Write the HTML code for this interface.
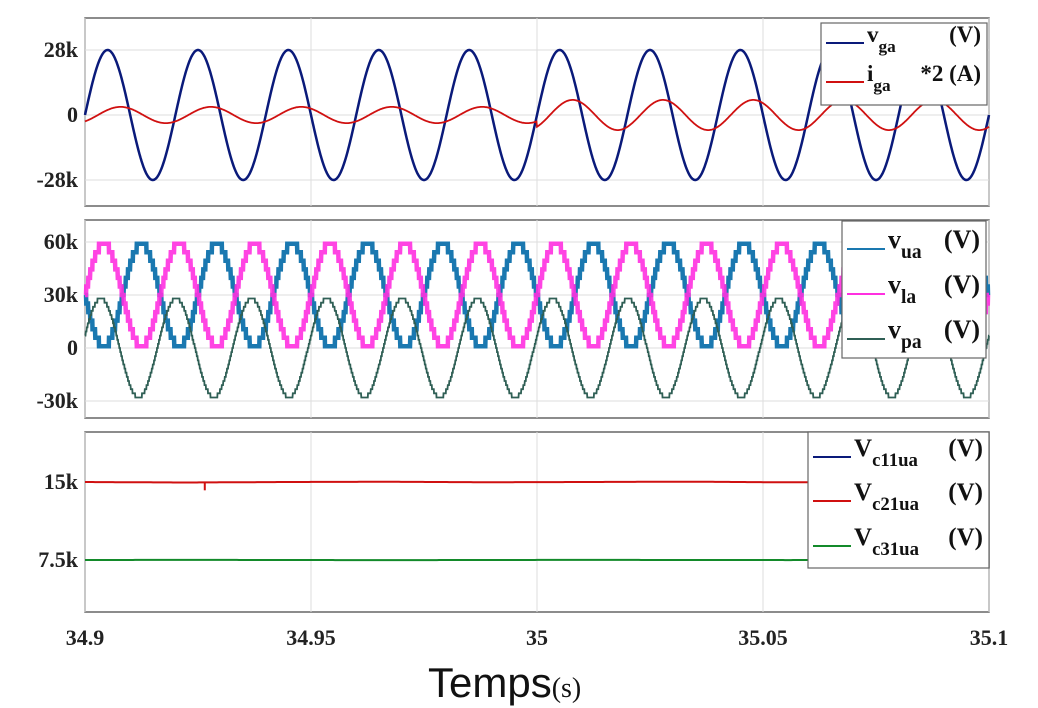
<!DOCTYPE html>
<html><head><meta charset="utf-8">
<style>
html,body{margin:0;padding:0;background:#fff;width:1038px;height:708px;overflow:hidden}
svg{display:block}
.tick{font-family:"Liberation Serif",serif;font-size:22px;font-weight:bold;fill:#222}
.leg{font-family:"Liberation Serif",serif;font-weight:bold;fill:#111}
</style></head>
<body>
<svg id="chart" width="1038" height="708" viewBox="0 0 1038 708"></svg>
<script>
// ---- data ----
const xTicks = [34.9, 34.95, 35, 35.05, 35.1];
const xTickLabels = ["34.9", "34.95", "35", "35.05", "35.1"];
const freq1 = 50; // Hz, grid panel
const freq2 = 60; // Hz, arm voltage panel
const p1Ticks = [28000, 0, -28000];
const p1TickLabels = ["28k", "0", "-28k"];
const vgaAmp = [28000,28000,28000,28000,28000,28000,28000,28000,28000,28000];
const igaAmp = [3500,3500,3500,3500,3500,6500,6500,6500,6500,6500];
const p2Ticks = [60000, 30000, 0, -30000];
const p2TickLabels = ["60k", "30k", "0", "-30k"];
const vOffset = 30000;
const vArmAmp = [29000,29000,29000,29000,29000,29000,29000,29000,29000,29000,29000,29000];
const vpaAmp = [28000,28000,28000,28000,28000,28000,28000,28000,28000,28000,28000,28000];
const p3Ticks = [15000, 7500];
const p3TickLabels = ["15k", "7.5k"];
const vc21 = [15000, 14950, 15000, 15020, 14980, 15000, 15030, 14970, 15020, 15000];
const vc31 = [7500, 7510, 7500, 7490, 7500, 7510, 7500, 7495, 7500, 7505];
const vc21Spike = {t: 34.9265, v: 14200};

// ---- layout ----
const NS = "http://www.w3.org/2000/svg";
const svg = document.getElementById("chart");
const X0 = 85, X1 = 989;
const xs = t => X0 + (t - 34.9) / 0.2 * (X1 - X0);
function lin(v0, y0, v1, y1){ return v => y0 + (v - v0) * (y1 - y0) / (v1 - v0); }
const y1s = lin(28000, 50, -28000, 180);
const y2s = lin(60000, 242, -30000, 401);
const y3s = lin(15000, 482, 7500, 560);

function el(tag, attrs, parent){
  const e = document.createElementNS(NS, tag);
  for (const k in attrs) e.setAttribute(k, attrs[k]);
  (parent || svg).appendChild(e);
  return e;
}

function panel(name, top, bot, ticks, labels, ys){
  const g = el("g", {});
  
  
  el("rect", {x: X0, y: top, width: X1 - X0, height: bot - top, fill: "#fff", stroke: "#666", "stroke-width": 1.5}, g);
  xTicks.forEach(t => el("line", {x1: xs(t), x2: xs(t), y1: top, y2: bot, stroke: "#ddd", "stroke-width": 1}, g));
  ticks.forEach((v, i) => {
    const y = ys(v);
    el("line", {x1: X0, x2: X1, y1: y, y2: y, stroke: "#ddd", "stroke-width": 1}, g);
    const tx = el("text", {x: 78, y: y + 7, "text-anchor": "end", class: "tick"}, g);
    tx.textContent = labels[i];
    
    
  });
  return g;
}

const g1 = panel("top-panel", 18, 206, p1Ticks, p1TickLabels, y1s);
const g2 = panel("middle-panel", 220, 418, p2Ticks, p2TickLabels, y2s);
const g3 = panel("bottom-panel", 432, 612, p3Ticks, p3TickLabels, y3s);

function wave(fn, ys, step){
  let d = "";
  for (let px = X0; px <= X1; px += (step || 0.5)){
    const t = 34.9 + (px - X0) / (X1 - X0) * 0.2;
    d += (d ? "L" : "M") + px.toFixed(1) + "," + ys(fn(t)).toFixed(1);
  }
  return d;
}
function cyc(t, f, n){ return Math.min(n - 1, Math.max(0, Math.floor((t - 34.9) * f))); }
const w1 = 2 * Math.PI * freq1;
const w2 = 2 * Math.PI * freq2;
function quant(s, n){ return Math.round(s * n) / n; }

// panel 1
let p = el("path", {d: wave(t => vgaAmp[cyc(t, freq1, vgaAmp.length)] * Math.sin(w1 * (t - 34.9)), y1s), fill: "none", stroke: "#0a1a7a", "stroke-width": 2.5}, g1);
 
p = el("path", {d: wave(t => igaAmp[cyc(t, freq1, igaAmp.length)] * Math.sin(w1 * (t - 34.9) - 0.9), y1s), fill: "none", stroke: "#d01010", "stroke-width": 1.8}, g1);
 

// panel 2
p = el("path", {d: wave(t => vOffset - vArmAmp[cyc(t, freq2, vArmAmp.length)] * quant(Math.sin(w2 * (t - 34.9)), 6), y2s, 0.25), fill: "none", stroke: "#1a78b0", "stroke-width": 4.5}, g2);
 
p = el("path", {d: wave(t => vOffset + vArmAmp[cyc(t, freq2, vArmAmp.length)] * quant(Math.sin(w2 * (t - 34.9)), 6), y2s, 0.25), fill: "none", stroke: "#ff30e0", "stroke-width": 4.5, opacity: 0.9}, g2);
 
p = el("path", {d: wave(t => vpaAmp[cyc(t, freq2, vpaAmp.length)] * quant(Math.sin(w2 * (t - 34.9) + 0.25), 12), y2s, 0.25), fill: "none", stroke: "#2f5f55", "stroke-width": 1.8}, g2);
 

// panel 3
function stepLine(arr){ return t => { const f = (t - 34.9) / 0.2 * (arr.length - 1); const i = Math.min(arr.length - 2, Math.floor(f)); return arr[i] + (arr[i+1] - arr[i]) * (f - i); }; }
p = el("path", {d: wave(stepLine(vc21), y3s, 2), fill: "none", stroke: "#d01010", "stroke-width": 2}, g3);
 
p = el("line", {x1: xs(vc21Spike.t), x2: xs(vc21Spike.t), y1: y3s(15000), y2: y3s(vc21Spike.v), stroke: "#d01010", "stroke-width": 2}, g3);
 
p = el("path", {d: wave(stepLine(vc31), y3s, 2), fill: "none", stroke: "#138a2a", "stroke-width": 2}, g3);
 

// legends
function legend(name, x, y, w2_, h, items, fs){
  const g = el("g", {});
  
  
  el("rect", {x, y, width: w2_, height: h, fill: "#fff", stroke: "#666", "stroke-width": 1.2}, g);
  items.forEach((it) => {
    const cy = y + it.dy;
    el("line", {x1: x + 5, x2: x + 43, y1: cy, y2: cy, stroke: it.c, "stroke-width": 2}, g);
    const t = el("text", {x: x + 46, y: cy - 1, class: "leg", "font-size": fs}, g);
    
    
    const a = document.createElementNS(NS, "tspan"); a.textContent = it.m; t.appendChild(a);
    const b = document.createElementNS(NS, "tspan"); b.setAttribute("dy", "10"); b.setAttribute("font-size", fs * 0.75); b.textContent = it.s; t.appendChild(b);
    const u = el("text", {x: x + w2_ - 6, y: cy - 1, "text-anchor": "end", class: "leg", "font-size": fs}, g);
    u.textContent = it.u;
  });
}
legend("top-legend", 821, 23, 166, 82, [
  {c: "#0a1a7a", m: "v", s: "ga", u: "(V)", dy: 20},
  {c: "#d01010", m: "i", s: "ga", u: "*2 (A)", dy: 59}], 23);
legend("middle-legend", 842, 221, 144, 137, [
  {c: "#1a78b0", m: "v", s: "ua", u: "(V)", dy: 28},
  {c: "#ff30e0", m: "v", s: "la", u: "(V)", dy: 73},
  {c: "#2f5f55", m: "v", s: "pa", u: "(V)", dy: 118}], 26);
legend("bottom-legend", 808, 432, 181, 136, [
  {c: "#0a1a7a", m: "V", s: "c11ua", u: "(V)", dy: 25},
  {c: "#d01010", m: "V", s: "c21ua", u: "(V)", dy: 69},
  {c: "#138a2a", m: "V", s: "c31ua", u: "(V)", dy: 114}], 25);

// x tick labels
xTicks.forEach((t, i) => {
  const tx = el("text", {x: xs(t), y: 645, "text-anchor": "middle", class: "tick", "font-size": 23});
  tx.textContent = xTickLabels[i];
  
  
});
const xt = el("text", {x: 428, y: 697, "font-family": "Liberation Sans, sans-serif", "font-size": 42, fill: "#111"});


const a1 = document.createElementNS(NS, "tspan"); a1.textContent = "Temps"; xt.appendChild(a1);
const a2 = document.createElementNS(NS, "tspan"); a2.setAttribute("font-family", "Liberation Serif, serif"); a2.setAttribute("font-size", "28"); a2.textContent = "(s)"; xt.appendChild(a2);
</script>
</body></html>
